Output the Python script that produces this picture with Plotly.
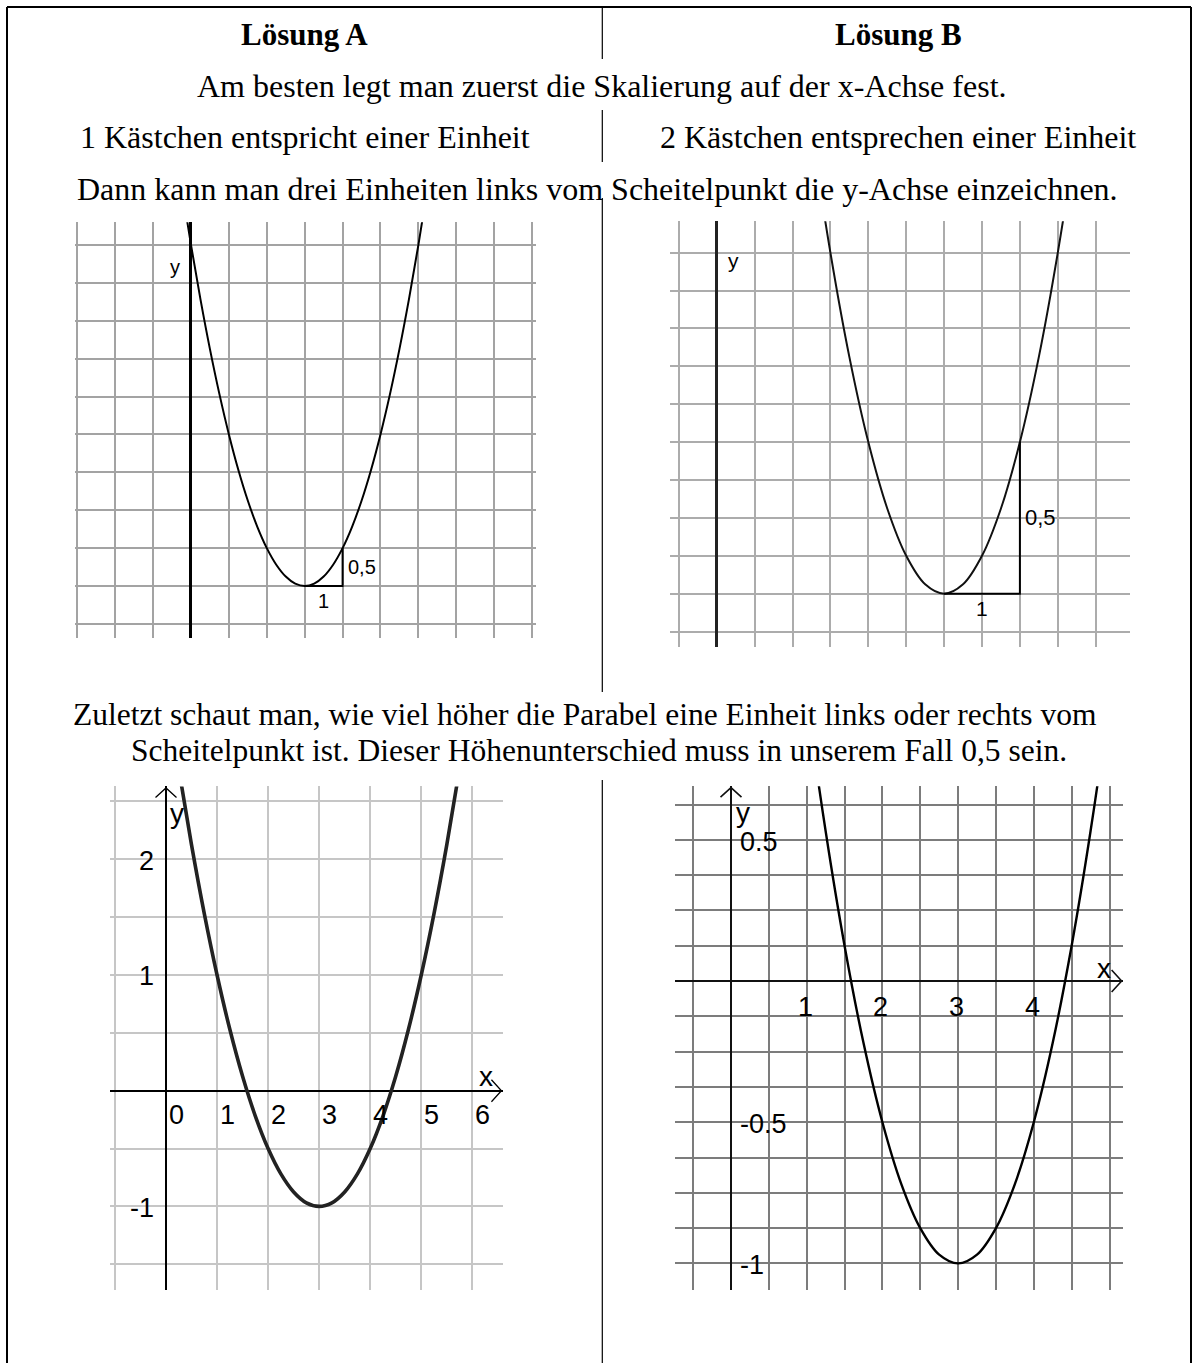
import plotly.graph_objects as go

W, H = 1196, 1363

# ---------------- data ----------------
# parabola points: vertex at (3, -1), 1 unit right/left -> 0.5 higher
curve_x = [-0.25, 0.0, 0.25, 0.5, 0.75, 1.0, 1.25, 1.5, 1.75, 2.0, 2.25, 2.5, 2.75,
           3.0, 3.25, 3.5, 3.75, 4.0, 4.25, 4.5, 4.75, 5.0, 5.25, 5.5, 5.75, 6.0, 6.25]
curve_y = [4.281, 3.5, 2.781, 2.125, 1.531, 1.0, 0.531, 0.125, -0.219, -0.5, -0.719, -0.875, -0.969,
           -1.0, -0.969, -0.875, -0.719, -0.5, -0.219, 0.125, 0.531, 1.0, 1.531, 2.125, 2.781, 3.5, 4.281]
# step triangle from the vertex: 1 unit right, 0.5 up
step_x = [3, 4, 4]
step_y = [-1, -1, -0.5]
step_label_run = "1"
step_label_rise = "0,5"

# tick labels of the lower charts
a_xticks = [0, 1, 2, 3, 4, 5, 6]
a_yticks = [2, 1, -1]
a_yticktext = ["2", "1", "-1"]
b_xticks = [1, 2, 3, 4]
b_yticks = [0.5, -0.5, -1]
b_yticktext = ["0.5", "-0.5", "-1"]

# texts
title_a = "Lösung A"
title_b = "Lösung B"
line_1 = "Am besten legt man zuerst die Skalierung auf der x-Achse fest."
col_a_2 = "1 Kästchen entspricht einer Einheit"
col_b_2 = "2 Kästchen entsprechen einer Einheit"
line_3 = "Dann kann man drei Einheiten links vom Scheitelpunkt die y-Achse einzeichnen."
line_4a = "Zuletzt schaut man, wie viel höher die Parabel eine Einheit links oder rechts vom"
line_4b = "Scheitelpunkt ist. Dieser Höhenunterschied muss in unserem Fall 0,5 sein."

# ---------------- layout of the four panels (pixel geometry) ----------------
panels = [
    dict(ox=191.0, oy=510.2, sx=37.9, sy=75.8, xr=[-3.05, 9.1], yr=[-1.68, 3.8],
         dx=1, dy=0.5, grid="#a3a3a3", gw=1.6),
    dict(ox=716.7, oy=290.5, sx=75.8, sy=303.2, xr=[-0.61, 5.45], yr=[-1.175, 0.228],
         dx=0.5, dy=0.125, grid="#acacac", gw=1.6),
    dict(ox=166.0, oy=1090.7, sx=51.05, sy=115.7, xr=[-1.1, 6.6], yr=[-1.72, 2.63],
         dx=1, dy=0.5, grid="#c6c6c6", gw=2.0),
    dict(ox=731.0, oy=981.0, sx=75.7, sy=282.4, xr=[-0.74, 5.18], yr=[-1.094, 0.69],
         dx=0.5, dy=0.125, grid="#7c7c7c", gw=2.3),
]

fig = go.Figure()
layout = dict(width=W, height=H, margin=dict(l=0, r=0, t=0, b=0, pad=0),
              paper_bgcolor="white", plot_bgcolor="white", showlegend=False)

curve_styles = [("black", 2.0), ("#111111", 2.0), ("#222222", 3.6), ("black", 2.4)]
axis_styles = [("black", 2.6), ("#222222", 3.0), ("black", 1.6), ("#111111", 2.0)]

for i, p in enumerate(panels):
    n = "" if i == 0 else str(i + 1)
    left = p["ox"] + p["xr"][0] * p["sx"]
    right = p["ox"] + p["xr"][1] * p["sx"]
    top = p["oy"] - p["yr"][1] * p["sy"]
    bottom = p["oy"] - p["yr"][0] * p["sy"]
    acol, aw = axis_styles[i]
    both = i >= 2
    layout["xaxis" + n] = dict(domain=[left / W, right / W], range=p["xr"], dtick=p["dx"], tick0=0,
                               showgrid=True, gridcolor=p["grid"], gridwidth=p["gw"],
                               zeroline=True, zerolinecolor=acol, zerolinewidth=aw,
                               showticklabels=False, ticks="", showline=False, fixedrange=True,
                               anchor="y" + n)
    layout["yaxis" + n] = dict(domain=[1 - bottom / H, 1 - top / H], range=p["yr"], dtick=p["dy"], tick0=0,
                               showgrid=True, gridcolor=p["grid"], gridwidth=p["gw"],
                               zeroline=both, zerolinecolor=acol, zerolinewidth=aw,
                               showticklabels=False, ticks="", showline=False, fixedrange=True,
                               anchor="x" + n)
    ccol, cw = curve_styles[i]
    xa, ya = "x" + n, "y" + n
    fig.add_trace(go.Scatter(x=curve_x, y=curve_y, mode="lines", xaxis=xa, yaxis=ya,
                             line=dict(color=ccol, width=cw, shape="spline", smoothing=1.0),
                             hoverinfo="skip"))
    if i < 2:
        fig.add_trace(go.Scatter(x=step_x, y=step_y, mode="lines", xaxis=xa, yaxis=ya,
                                 line=dict(color="black", width=2.0), hoverinfo="skip"))
    else:
        # open arrow heads at the axis ends
        sx, sy = p["sx"], p["sy"]
        xt = p["xr"][1] - 1.5 / sx
        fig.add_trace(go.Scatter(x=[xt - 10 / sx, xt, xt - 10 / sx], y=[11 / sy, 0, -11 / sy],
                                 mode="lines", xaxis=xa, yaxis=ya,
                                 line=dict(color=acol, width=aw * 0.8), hoverinfo="skip"))
        yt = p["yr"][1] - 1.5 / sy
        fig.add_trace(go.Scatter(x=[-10.5 / sx, 0, 10.5 / sx], y=[yt - 9.5 / sy, yt, yt - 9.5 / sy],
                                 mode="lines", xaxis=xa, yaxis=ya,
                                 line=dict(color=acol, width=aw * 0.8), hoverinfo="skip"))

annotations = []


def pann(text, px, py, size, family="Liberation Serif", xanchor="center", weight="normal"):
    annotations.append(dict(text=text, x=px / W, y=1 - py / H, xref="paper", yref="paper",
                            showarrow=False, xanchor=xanchor, yanchor="middle",
                            font=dict(family=family, size=size, color="black", weight=weight)))


def dann(text, x, y, n, size, xanchor="center", xshift=0, yshift=0, family="Liberation Sans"):
    annotations.append(dict(text=text, x=x, y=y, xref="x" + n, yref="y" + n, showarrow=False,
                            xanchor=xanchor, yanchor="middle", xshift=xshift, yshift=yshift,
                            font=dict(family=family, size=size, color="black")))


# main texts
pann(title_a, 304, 34, 31, weight="bold")
pann(title_b, 898, 34, 31, weight="bold")
pann(line_1, 602, 86, 32)
pann(col_a_2, 305, 137, 32)
pann(col_b_2, 898, 137, 32)
pann(line_3, 597, 189, 32)
pann(line_4a, 585, 714, 31.5)
pann(line_4b, 599, 750, 31.5)

# upper chart labels
pann("y", 175, 267, 20, family="Liberation Sans")
dann(step_label_rise, step_x[2], (step_y[1] + step_y[2]) / 2, "", 20, xanchor="left", xshift=3)
dann(step_label_run, (step_x[0] + step_x[1]) / 2, step_y[0], "", 20, yshift=-15)
pann("y", 733, 261, 21, family="Liberation Sans")
dann(step_label_rise, step_x[2], (step_y[1] + step_y[2]) / 2, "2", 22, xanchor="left", xshift=3)
dann(step_label_run, (step_x[0] + step_x[1]) / 2, step_y[0], "2", 21, yshift=-15)

# lower left chart labels
for v in a_xticks:
    dann(str(v), v, 0, "3", 27, xshift=10, yshift=-24)
for v, t in zip(a_yticks, a_yticktext):
    dann(t, 0, v, "3", 27, xanchor="right", xshift=-10, yshift=-1.5)
pann("x", 486, 1076, 28, family="Liberation Sans")
pann("y", 177, 813, 28, family="Liberation Sans")

# lower right chart labels
for v in b_xticks:
    dann(str(v), v, 0, "4", 27, xshift=-1.5, yshift=-26)
for v, t in zip(b_yticks, b_yticktext):
    dann(t, 0, v, "4", 27, xanchor="left", xshift=7, yshift=-2)
pann("x", 1103.5, 968, 28, family="Liberation Sans")
pann("y", 743, 812, 28, family="Liberation Sans")

layout["annotations"] = annotations

# frame and column divider
shapes = []


def pline(x0, y0, x1, y1, w=2.0):
    shapes.append(dict(type="line", xref="paper", yref="paper", x0=x0 / W, y0=1 - y0 / H,
                       x1=x1 / W, y1=1 - y1 / H, line=dict(color="black", width=w)))


pline(7, 7, 1191, 7)
pline(7, 7, 7, H + 2)
pline(1191, 7, 1191, H + 2)
for a, b in [(7, 59), (110, 162), (198, 692), (780, H + 2)]:
    pline(602.3, a, 602.3, b, 1.2)
layout["shapes"] = shapes

fig.update_layout(**layout)
fig.write_html("out.html", config={"displayModeBar": False},
               post_script="document.body.style.margin='0';document.body.style.overflow='hidden';")
